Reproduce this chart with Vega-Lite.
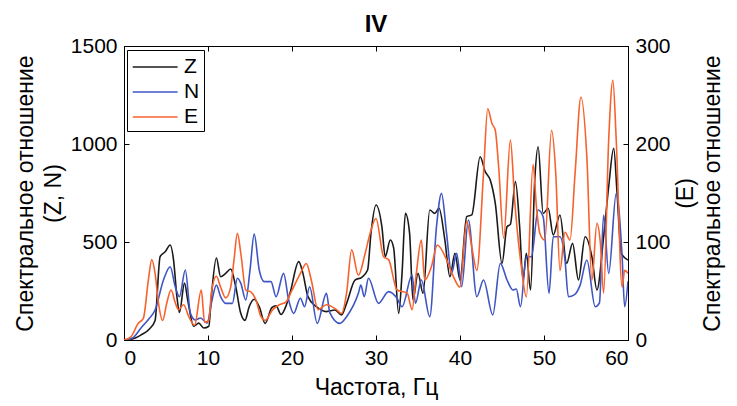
{
  "$schema": "https://vega.github.io/schema/vega-lite/v6.json",
  "width": 504,
  "height": 294,
  "autosize": {"type": "none"},
  "padding": {"left": 124, "top": 46, "right": 109, "bottom": 66},
  "background": "white",
  "title": {"text": "IV", "fontSize": 24, "fontWeight": "bold", "font": "Liberation Sans", "color": "black", "offset": -2},
  "config": {
    "font": "Liberation Sans",
    "view": {"stroke": "black", "strokeWidth": 1},
    "axis": {"grid": false, "labelFontSize": 21, "titleFontSize": 23, "titleFontWeight": "normal", "labelColor": "black", "titleColor": "black", "domainColor": "black", "tickColor": "black", "tickSize": -5, "tickWidth": 1, "labelPadding": 12, "labelFont": "Liberation Sans", "titleFont": "Liberation Sans", "format": "d"}
  },
  "data": {"values": [
    {"f":0,"s":"Z","v":0},{"f":1,"s":"Z","v":5},{"f":2,"s":"Z","v":25},{"f":3,"s":"Z","v":55},{"f":3.7,"s":"Z","v":100},{"f":4.3,"s":"Z","v":425},{"f":4.9,"s":"Z","v":450},{"f":5.5,"s":"Z","v":485},{"f":5.9,"s":"Z","v":408},{"f":6.3,"s":"Z","v":221},{"f":6.6,"s":"Z","v":140},{"f":7.2,"s":"Z","v":290},{"f":7.6,"s":"Z","v":200},{"f":8.3,"s":"Z","v":70},{"f":8.9,"s":"Z","v":86},{"f":9.5,"s":"Z","v":61},{"f":10.1,"s":"Z","v":70},{"f":10.4,"s":"Z","v":221},{"f":11.0,"s":"Z","v":418},{"f":11.5,"s":"Z","v":323},{"f":12.1,"s":"Z","v":340},{"f":12.7,"s":"Z","v":362},{"f":13.3,"s":"Z","v":272},{"f":13.9,"s":"Z","v":136},{"f":14.4,"s":"Z","v":100},{"f":14.9,"s":"Z","v":170},{"f":15.5,"s":"Z","v":208},{"f":16.1,"s":"Z","v":170},{"f":16.8,"s":"Z","v":85},{"f":17.6,"s":"Z","v":165},{"f":18.1,"s":"Z","v":175},{"f":18.7,"s":"Z","v":130},{"f":19.3,"s":"Z","v":175},{"f":19.8,"s":"Z","v":245},{"f":20.8,"s":"Z","v":400},{"f":21.3,"s":"Z","v":340},{"f":21.9,"s":"Z","v":221},{"f":22.9,"s":"Z","v":170},{"f":24.1,"s":"Z","v":145},{"f":25.1,"s":"Z","v":153},{"f":25.9,"s":"Z","v":128},{"f":26.5,"s":"Z","v":187},{"f":27.5,"s":"Z","v":306},{"f":28.3,"s":"Z","v":320},{"f":29.0,"s":"Z","v":357},{"f":29.4,"s":"Z","v":544},{"f":30.0,"s":"Z","v":689},{"f":30.7,"s":"Z","v":578},{"f":31.1,"s":"Z","v":425},{"f":31.7,"s":"Z","v":510},{"f":32.1,"s":"Z","v":470},{"f":32.7,"s":"Z","v":136},{"f":33.1,"s":"Z","v":340},{"f":33.5,"s":"Z","v":646},{"f":34.0,"s":"Z","v":544},{"f":34.4,"s":"Z","v":204},{"f":35.0,"s":"Z","v":340},{"f":35.6,"s":"Z","v":238},{"f":36.4,"s":"Z","v":663},{"f":37.0,"s":"Z","v":646},{"f":37.5,"s":"Z","v":672},{"f":38.2,"s":"Z","v":510},{"f":38.8,"s":"Z","v":323},{"f":39.4,"s":"Z","v":442},{"f":40.0,"s":"Z","v":306},{"f":40.8,"s":"Z","v":629},{"f":41.4,"s":"Z","v":638},{"f":42.4,"s":"Z","v":935},{"f":43.0,"s":"Z","v":859},{"f":43.6,"s":"Z","v":816},{"f":44.2,"s":"Z","v":697},{"f":45.0,"s":"Z","v":391},{"f":45.6,"s":"Z","v":578},{"f":46.0,"s":"Z","v":590},{"f":46.6,"s":"Z","v":808},{"f":47.1,"s":"Z","v":578},{"f":47.5,"s":"Z","v":306},{"f":47.9,"s":"Z","v":442},{"f":48.4,"s":"Z","v":255},{"f":48.9,"s":"Z","v":816},{"f":49.3,"s":"Z","v":986},{"f":49.9,"s":"Z","v":646},{"f":50.5,"s":"Z","v":672},{"f":51.1,"s":"Z","v":536},{"f":51.9,"s":"Z","v":638},{"f":52.7,"s":"Z","v":391},{"f":53.4,"s":"Z","v":493},{"f":54.1,"s":"Z","v":306},{"f":54.9,"s":"Z","v":527},{"f":55.7,"s":"Z","v":425},{"f":56.3,"s":"Z","v":255},{"f":57.1,"s":"Z","v":527},{"f":57.7,"s":"Z","v":782},{"f":58.3,"s":"Z","v":978},{"f":58.7,"s":"Z","v":748},{"f":59.2,"s":"Z","v":442},{"f":60,"s":"Z","v":408},
    {"f":0,"s":"N","v":0},{"f":1,"s":"N","v":10},{"f":2,"s":"N","v":60},{"f":3,"s":"N","v":110},{"f":3.7,"s":"N","v":153},{"f":4.7,"s":"N","v":306},{"f":5.5,"s":"N","v":374},{"f":6.1,"s":"N","v":272},{"f":6.6,"s":"N","v":221},{"f":7.3,"s":"N","v":357},{"f":7.9,"s":"N","v":137},{"f":8.5,"s":"N","v":102},{"f":9.1,"s":"N","v":112},{"f":9.9,"s":"N","v":86},{"f":10.4,"s":"N","v":187},{"f":11.0,"s":"N","v":280},{"f":11.5,"s":"N","v":221},{"f":12.1,"s":"N","v":187},{"f":12.9,"s":"N","v":187},{"f":13.5,"s":"N","v":315},{"f":13.9,"s":"N","v":290},{"f":14.5,"s":"N","v":204},{"f":15.0,"s":"N","v":357},{"f":15.5,"s":"N","v":540},{"f":16.1,"s":"N","v":357},{"f":16.7,"s":"N","v":298},{"f":17.5,"s":"N","v":298},{"f":18.1,"s":"N","v":221},{"f":19.0,"s":"N","v":340},{"f":19.6,"s":"N","v":204},{"f":20.2,"s":"N","v":136},{"f":21.0,"s":"N","v":213},{"f":21.5,"s":"N","v":170},{"f":22.1,"s":"N","v":272},{"f":23.0,"s":"N","v":85},{"f":24.1,"s":"N","v":238},{"f":24.5,"s":"N","v":140},{"f":25.7,"s":"N","v":85},{"f":26.5,"s":"N","v":119},{"f":27.9,"s":"N","v":238},{"f":28.2,"s":"N","v":280},{"f":28.6,"s":"N","v":221},{"f":29.1,"s":"N","v":315},{"f":30.3,"s":"N","v":187},{"f":31.5,"s":"N","v":247},{"f":32.5,"s":"N","v":213},{"f":33.1,"s":"N","v":170},{"f":34.3,"s":"N","v":332},{"f":34.7,"s":"N","v":187},{"f":35.4,"s":"N","v":306},{"f":36.4,"s":"N","v":119},{"f":37.2,"s":"N","v":578},{"f":37.8,"s":"N","v":748},{"f":38.4,"s":"N","v":544},{"f":39.0,"s":"N","v":340},{"f":39.6,"s":"N","v":442},{"f":40.2,"s":"N","v":272},{"f":41.0,"s":"N","v":612},{"f":42.0,"s":"N","v":221},{"f":42.8,"s":"N","v":306},{"f":43.9,"s":"N","v":128},{"f":44.8,"s":"N","v":391},{"f":45.6,"s":"N","v":306},{"f":46.3,"s":"N","v":255},{"f":46.7,"s":"N","v":260},{"f":47.2,"s":"N","v":170},{"f":47.9,"s":"N","v":425},{"f":48.5,"s":"N","v":425},{"f":49.3,"s":"N","v":663},{"f":49.9,"s":"N","v":629},{"f":50.6,"s":"N","v":238},{"f":51.1,"s":"N","v":527},{"f":51.9,"s":"N","v":527},{"f":52.5,"s":"N","v":408},{"f":52.9,"s":"N","v":221},{"f":53.6,"s":"N","v":230},{"f":54.3,"s":"N","v":280},{"f":55.1,"s":"N","v":408},{"f":56.1,"s":"N","v":170},{"f":56.6,"s":"N","v":190},{"f":57.1,"s":"N","v":638},{"f":57.7,"s":"N","v":340},{"f":58.6,"s":"N","v":748},{"f":59.3,"s":"N","v":425},{"f":59.6,"s":"N","v":170},{"f":60,"s":"N","v":300},
    {"f":0,"s":"E","v":0},{"f":0.8,"s":"E","v":3},{"f":1.7,"s":"E","v":17},{"f":2.3,"s":"E","v":22},{"f":2.9,"s":"E","v":61},{"f":3.3,"s":"E","v":82},{"f":3.7,"s":"E","v":68},{"f":4.1,"s":"E","v":38},{"f":4.6,"s":"E","v":20},{"f":5.1,"s":"E","v":38},{"f":5.6,"s":"E","v":51},{"f":6.1,"s":"E","v":38},{"f":6.5,"s":"E","v":31},{"f":7.1,"s":"E","v":36},{"f":7.7,"s":"E","v":24},{"f":8.4,"s":"E","v":15},{"f":9.2,"s":"E","v":51},{"f":9.6,"s":"E","v":18},{"f":10.1,"s":"E","v":20},{"f":10.4,"s":"E","v":48},{"f":11.0,"s":"E","v":65},{"f":11.5,"s":"E","v":54},{"f":12.1,"s":"E","v":43},{"f":12.7,"s":"E","v":54},{"f":13.1,"s":"E","v":82},{"f":13.5,"s":"E","v":109},{"f":13.9,"s":"E","v":89},{"f":14.5,"s":"E","v":51},{"f":15.1,"s":"E","v":49},{"f":15.7,"s":"E","v":41},{"f":16.3,"s":"E","v":24},{"f":16.8,"s":"E","v":20},{"f":17.7,"s":"E","v":31},{"f":18.5,"s":"E","v":36},{"f":19.3,"s":"E","v":39},{"f":19.9,"s":"E","v":49},{"f":21.0,"s":"E","v":68},{"f":21.7,"s":"E","v":78},{"f":22.3,"s":"E","v":61},{"f":23.1,"s":"E","v":31},{"f":24.1,"s":"E","v":36},{"f":25.3,"s":"E","v":31},{"f":25.9,"s":"E","v":27},{"f":26.5,"s":"E","v":48},{"f":27.1,"s":"E","v":92},{"f":27.9,"s":"E","v":66},{"f":28.7,"s":"E","v":88},{"f":29.3,"s":"E","v":109},{"f":30.0,"s":"E","v":124},{"f":30.9,"s":"E","v":85},{"f":31.5,"s":"E","v":82},{"f":32.5,"s":"E","v":51},{"f":33.7,"s":"E","v":48},{"f":34.3,"s":"E","v":31},{"f":34.8,"s":"E","v":68},{"f":35.4,"s":"E","v":102},{"f":35.8,"s":"E","v":61},{"f":36.6,"s":"E","v":75},{"f":37.3,"s":"E","v":97},{"f":38.4,"s":"E","v":82},{"f":39.2,"s":"E","v":65},{"f":40.0,"s":"E","v":54},{"f":40.8,"s":"E","v":121},{"f":41.4,"s":"E","v":95},{"f":42.0,"s":"E","v":71},{"f":42.8,"s":"E","v":170},{"f":43.3,"s":"E","v":236},{"f":43.8,"s":"E","v":221},{"f":44.2,"s":"E","v":214},{"f":44.6,"s":"E","v":177},{"f":45.2,"s":"E","v":104},{"f":46.0,"s":"E","v":204},{"f":46.5,"s":"E","v":143},{"f":47.3,"s":"E","v":75},{"f":47.9,"s":"E","v":44},{"f":48.7,"s":"E","v":179},{"f":49.1,"s":"E","v":136},{"f":49.5,"s":"E","v":109},{"f":50.1,"s":"E","v":102},{"f":50.9,"s":"E","v":214},{"f":51.4,"s":"E","v":170},{"f":51.9,"s":"E","v":71},{"f":52.5,"s":"E","v":110},{"f":53.1,"s":"E","v":102},{"f":53.7,"s":"E","v":170},{"f":54.4,"s":"E","v":248},{"f":55.1,"s":"E","v":187},{"f":55.7,"s":"E","v":61},{"f":56.3,"s":"E","v":119},{"f":56.7,"s":"E","v":100},{"f":57.1,"s":"E","v":48},{"f":57.7,"s":"E","v":204},{"f":58.2,"s":"E","v":265},{"f":58.6,"s":"E","v":204},{"f":59.3,"s":"E","v":54},{"f":59.6,"s":"E","v":71},{"f":60,"s":"E","v":68}
  ]},
  "layer": [
    {
      "transform": [{"filter": "datum.s !== 'E'"}],
      "mark": {"type": "line", "interpolate": "monotone", "strokeWidth": 1.6, "clip": true},
      "encoding": {
        "x": {"field": "f", "type": "quantitative", "scale": {"domain": [0, 60], "nice": false}, "axis": {"orient": "bottom", "values": [0,10,20,30,40,50,60], "title": "Частота, Гц", "titlePadding": 8}},
        "y": {"field": "v", "type": "quantitative", "scale": {"domain": [0, 1500], "nice": false}, "axis": {"orient": "left", "values": [0,500,1000,1500], "title": ["Спектральное отношение", "(Z, N)"], "titleLineHeight": 28, "titleBaseline": "middle", "titleAngle": -90, "titleX": -99, "titleY": 147}},
        "color": {"field": "s", "type": "nominal", "scale": {"domain": ["Z","N","E"], "range": ["#1a1a1a", "#3f55c4", "#f7622c"]},
          "legend": {"title": null, "orient": "none", "legendX": 3, "legendY": 4, "symbolType": "M-0.94,0H2.8", "symbolSize": 576, "symbolStrokeWidth": 1.6, "labelFontSize": 21, "labelColor": "black", "labelOffset": 27, "strokeColor": "black", "fillColor": "white", "padding": 4, "rowPadding": 2}},
        "order": {"field": "f", "type": "quantitative"}
      }
    },
    {
      "transform": [{"filter": "datum.s === 'E'"}],
      "mark": {"type": "line", "interpolate": "monotone", "strokeWidth": 1.6, "clip": true},
      "encoding": {
        "x": {"field": "f", "type": "quantitative", "scale": {"domain": [0, 60], "nice": false}, "axis": {"orient": "top", "values": [0,10,20,30,40,50,60], "labels": false, "title": null}},
        "y": {"field": "v", "type": "quantitative", "scale": {"domain": [0, 300], "nice": false}, "axis": {"orient": "right", "values": [0,100,200,300], "title": ["(E)", "Спектральное отношение"], "titleLineHeight": 27, "titleBaseline": "middle", "titleAngle": -90, "titleX": 57, "titleY": 147}},
        "color": {"field": "s", "type": "nominal", "scale": {"domain": ["Z","N","E"], "range": ["#1a1a1a", "#3f55c4", "#f7622c"]}},
        "order": {"field": "f", "type": "quantitative"}
      }
    }
  ],
  "resolve": {"scale": {"y": "independent"}, "axis": {"x": "independent"}}
}
